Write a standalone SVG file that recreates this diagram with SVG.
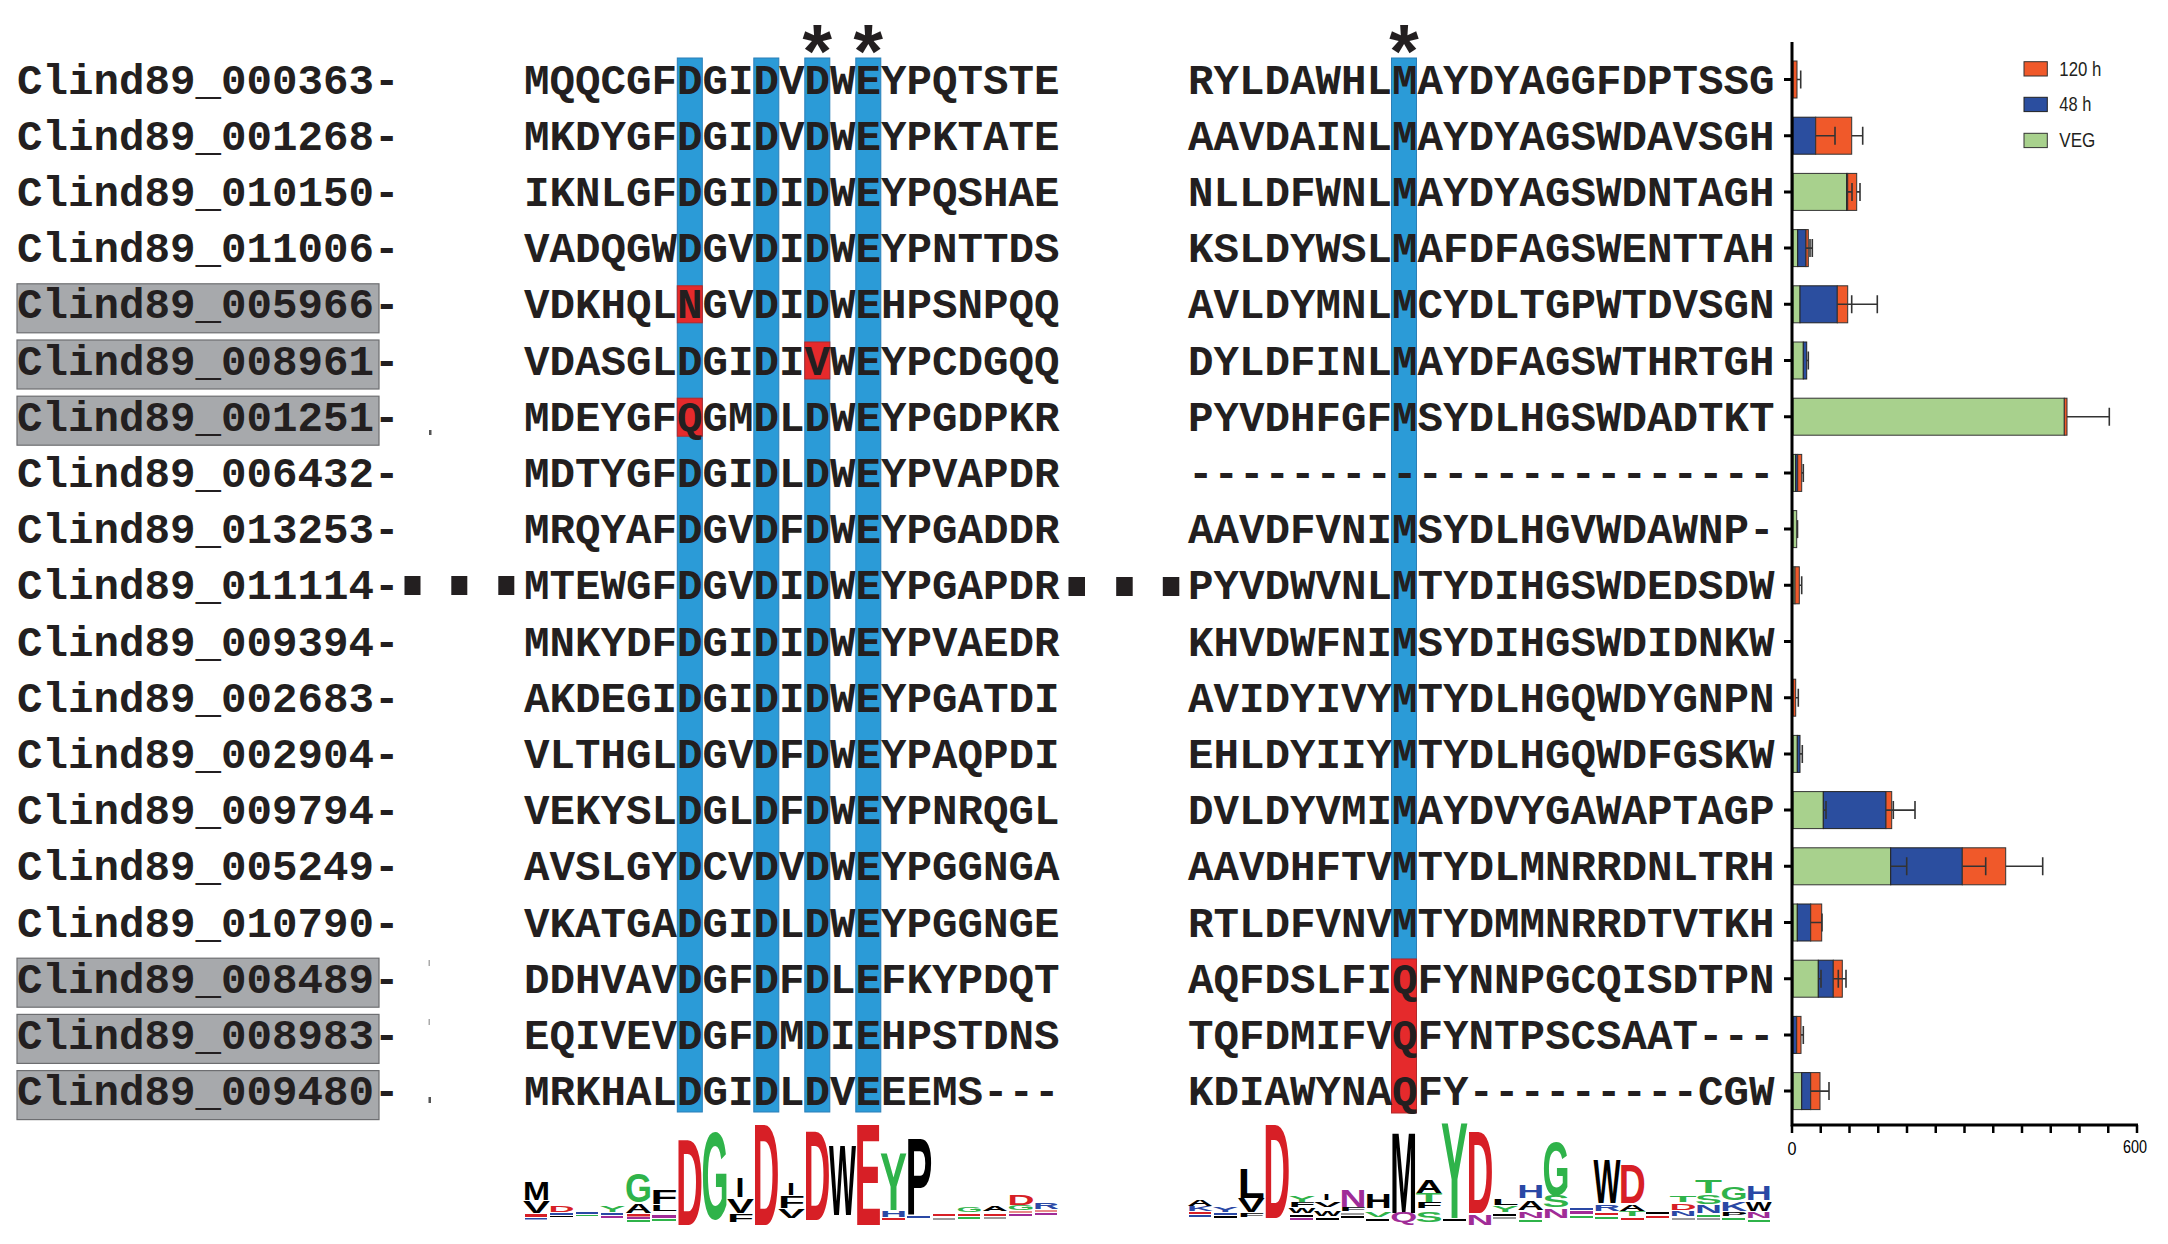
<svg xmlns="http://www.w3.org/2000/svg" width="2168" height="1244" viewBox="0 0 2168 1244">
<style>
.seq{font-family:"Courier New","Liberation Mono",monospace;font-weight:bold;font-size:42.5px;fill:#231f20}
.ast{font-family:"Courier New","Liberation Mono",monospace;font-weight:bold;font-size:76px;fill:#231f20}
.gbox{fill:#a7a9ac;stroke:#6d6e71;stroke-width:1.2}
.hb{fill:#2b9bd7;stroke:#2a7fb8;stroke-width:1}
.hr{fill:#e52a2c;stroke:#b5282a;stroke-width:1}
.sq{fill:#231f20}
.art{fill:#555}
.veg{fill:#a8d18d;stroke:#333;stroke-width:1}
.h48{fill:#2b4e9f;stroke:#222;stroke-width:1}
.h120{fill:#f0592a;stroke:#333;stroke-width:1}
.err{stroke:#333;stroke-width:1.6;fill:none}
.ax{stroke:#000;stroke-width:3;fill:none}
.tick{stroke:#000;stroke-width:2.5;fill:none}
.tk{font-family:"Liberation Sans",Arial,sans-serif;font-size:19px;fill:#000}
.lgd{font-family:"Liberation Sans",Arial,sans-serif;font-size:20px;fill:#231f20}
.lg{font-family:"Liberation Sans",Arial,sans-serif;font-weight:bold}
.r{fill:#d71f26}.g{fill:#2fb34a}.k{fill:#000}.bl{fill:#2a48a5}.p{fill:#a02c97}.pk{fill:#e98a8a}.gy{fill:#9a9a9a}
</style>

<!-- label highlight boxes -->
<g id="label-boxes">
<rect class="gbox" x="17" y="283.8" width="362" height="49"/>
<rect class="gbox" x="17" y="340" width="362" height="49"/>
<rect class="gbox" x="17" y="396.2" width="362" height="49"/>
<rect class="gbox" x="17" y="958.2" width="362" height="49"/>
<rect class="gbox" x="17" y="1014.4" width="362" height="49"/>
<rect class="gbox" x="17" y="1070.6" width="362" height="49"/>
</g>

<!-- conserved column highlights -->
<g id="highlights">
<rect class="hb" x="677.3" y="58" width="25" height="1054"/>
<rect class="hb" x="753.8" y="58" width="25" height="1054"/>
<rect class="hb" x="804.8" y="58" width="25" height="1054"/>
<rect class="hb" x="855.8" y="58" width="25" height="1054"/>
<rect class="hb" x="1391.5" y="58" width="25" height="901"/>
<rect class="hr" x="677.3" y="285.8" width="25" height="37"/>
<rect class="hr" x="804.8" y="342" width="25" height="37"/>
<rect class="hr" x="677.3" y="398.2" width="25" height="38"/>
<rect class="hr" x="1391.5" y="959" width="25" height="154"/>
</g>

<g id="asterisks">
<text class="ast" x="817.3" y="80" text-anchor="middle">*</text>
<text class="ast" x="868.3" y="80" text-anchor="middle">*</text>
<text class="ast" x="1404" y="80" text-anchor="middle">*</text>
</g>

<g id="alignment">
<g id="row-01"><text class="seq" x="17" y="93.5">Clind89_000363-</text><text class="seq" x="524" y="93.5">MQQCGFDGIDVDWEYPQTSTE</text><text class="seq" x="1188" y="93.5">RYLDAWHLMAYDYAGGFDPTSSG</text></g>
<g id="row-02"><text class="seq" x="17" y="149.7">Clind89_001268-</text><text class="seq" x="524" y="149.7">MKDYGFDGIDVDWEYPKTATE</text><text class="seq" x="1188" y="149.7">AAVDAINLMAYDYAGSWDAVSGH</text></g>
<g id="row-03"><text class="seq" x="17" y="205.9">Clind89_010150-</text><text class="seq" x="524" y="205.9">IKNLGFDGIDIDWEYPQSHAE</text><text class="seq" x="1188" y="205.9">NLLDFWNLMAYDYAGSWDNTAGH</text></g>
<g id="row-04"><text class="seq" x="17" y="262.1">Clind89_011006-</text><text class="seq" x="524" y="262.1">VADQGWDGVDIDWEYPNTTDS</text><text class="seq" x="1188" y="262.1">KSLDYWSLMAFDFAGSWENTTAH</text></g>
<g id="row-05"><text class="seq" x="17" y="318.3">Clind89_005966-</text><text class="seq" x="524" y="318.3">VDKHQLNGVDIDWEHPSNPQQ</text><text class="seq" x="1188" y="318.3">AVLDYMNLMCYDLTGPWTDVSGN</text></g>
<g id="row-06"><text class="seq" x="17" y="374.5">Clind89_008961-</text><text class="seq" x="524" y="374.5">VDASGLDGIDIVWEYPCDGQQ</text><text class="seq" x="1188" y="374.5">DYLDFINLMAYDFAGSWTHRTGH</text></g>
<g id="row-07"><text class="seq" x="17" y="430.7">Clind89_001251-</text><text class="seq" x="524" y="430.7">MDEYGFQGMDLDWEYPGDPKR</text><text class="seq" x="1188" y="430.7">PYVDHFGFMSYDLHGSWDADTKT</text></g>
<g id="row-08"><text class="seq" x="17" y="486.9">Clind89_006432-</text><text class="seq" x="524" y="486.9">MDTYGFDGIDLDWEYPVAPDR</text><text class="seq" x="1188" y="486.9">-----------------------</text></g>
<g id="row-09"><text class="seq" x="17" y="543.1">Clind89_013253-</text><text class="seq" x="524" y="543.1">MRQYAFDGVDFDWEYPGADDR</text><text class="seq" x="1188" y="543.1">AAVDFVNIMSYDLHGVWDAWNP-</text></g>
<g id="row-10"><text class="seq" x="17" y="599.3">Clind89_011114-</text><text class="seq" x="524" y="599.3">MTEWGFDGVDIDWEYPGAPDR</text><text class="seq" x="1188" y="599.3">PYVDWVNLMTYDIHGSWDEDSDW</text></g>
<g id="row-11"><text class="seq" x="17" y="655.5">Clind89_009394-</text><text class="seq" x="524" y="655.5">MNKYDFDGIDIDWEYPVAEDR</text><text class="seq" x="1188" y="655.5">KHVDWFNIMSYDIHGSWDIDNKW</text></g>
<g id="row-12"><text class="seq" x="17" y="711.7">Clind89_002683-</text><text class="seq" x="524" y="711.7">AKDEGIDGIDIDWEYPGATDI</text><text class="seq" x="1188" y="711.7">AVIDYIVYMTYDLHGQWDYGNPN</text></g>
<g id="row-13"><text class="seq" x="17" y="767.9">Clind89_002904-</text><text class="seq" x="524" y="767.9">VLTHGLDGVDFDWEYPAQPDI</text><text class="seq" x="1188" y="767.9">EHLDYIIYMTYDLHGQWDFGSKW</text></g>
<g id="row-14"><text class="seq" x="17" y="824.1">Clind89_009794-</text><text class="seq" x="524" y="824.1">VEKYSLDGLDFDWEYPNRQGL</text><text class="seq" x="1188" y="824.1">DVLDYVMIMAYDVYGAWAPTAGP</text></g>
<g id="row-15"><text class="seq" x="17" y="880.3">Clind89_005249-</text><text class="seq" x="524" y="880.3">AVSLGYDCVDVDWEYPGGNGA</text><text class="seq" x="1188" y="880.3">AAVDHFTVMTYDLMNRRDNLTRH</text></g>
<g id="row-16"><text class="seq" x="17" y="936.5">Clind89_010790-</text><text class="seq" x="524" y="936.5">VKATGADGIDLDWEYPGGNGE</text><text class="seq" x="1188" y="936.5">RTLDFVNVMTYDMMNRRDTVTKH</text></g>
<g id="row-17"><text class="seq" x="17" y="992.7">Clind89_008489-</text><text class="seq" x="524" y="992.7">DDHVAVDGFDFDLEFKYPDQT</text><text class="seq" x="1188" y="992.7">AQFDSLFIQFYNNPGCQISDTPN</text></g>
<g id="row-18"><text class="seq" x="17" y="1048.9">Clind89_008983-</text><text class="seq" x="524" y="1048.9">EQIVEVDGFDMDIEHPSTDNS</text><text class="seq" x="1188" y="1048.9">TQFDMIFVQFYNTPSCSAAT---</text></g>
<g id="row-19"><text class="seq" x="17" y="1105.1">Clind89_009480-</text><text class="seq" x="524" y="1105.1">MRKHALDGIDLDVEEEMS---</text><text class="seq" x="1188" y="1105.1">KDIAWYNAQFY---------CGW</text></g>
</g>

<g id="connectors">
<rect class="sq" x="404.5" y="576" width="16" height="19"/>
<rect class="sq" x="451.3" y="576" width="16" height="19"/>
<rect class="sq" x="498.3" y="576" width="16" height="19"/>
<rect class="sq" x="1068.5" y="577" width="16.5" height="19"/>
<rect class="sq" x="1116.2" y="577" width="16.5" height="19"/>
<rect class="sq" x="1162.8" y="577" width="16.5" height="19"/>
<rect class="art" x="429" y="430" width="2.5" height="5"/>
<rect class="art" x="428.5" y="960" width="1.5" height="6" opacity="0.5"/>
<rect class="art" x="428.5" y="1019" width="1.5" height="6" opacity="0.5"/>
<rect class="art" x="428.5" y="1097" width="2.5" height="6"/>
</g>

<!-- sequence logo 1 -->
<g id="logo-1" class="lg">
<rect class="r" x="525" y="1214" width="22" height="3"/><rect class="bl" x="525" y="1218" width="22" height="1.5"/>
<rect class="bl" x="550" y="1213" width="23" height="2"/><rect class="k" x="550" y="1216" width="23" height="1"/>
<rect class="bl" x="576" y="1212" width="22" height="2"/><rect class="g" x="576" y="1215" width="22" height="1"/>
<rect class="bl" x="601" y="1213" width="22" height="2"/><rect class="p" x="601" y="1216" width="22" height="2"/>
<rect class="r" x="627" y="1214" width="23" height="2.5"/><rect class="p" x="627" y="1217" width="23" height="2"/><rect class="g" x="627" y="1220" width="23" height="2"/>
<rect class="p" x="652" y="1215" width="24" height="3"/><rect class="g" x="652" y="1219" width="24" height="2"/>
<rect class="r" x="882" y="1218" width="23" height="2"/><rect class="bl" x="907" y="1216" width="23" height="2"/>
<rect class="r" x="933" y="1214" width="22" height="2"/><rect class="gy" x="933" y="1218" width="22" height="2"/>
<rect class="r" x="958" y="1214" width="22" height="2"/><rect class="g" x="958" y="1217" width="22" height="2"/>
<rect class="r" x="984" y="1214" width="22" height="2"/><rect class="gy" x="984" y="1217" width="22" height="2"/>
<rect class="pk" x="1009" y="1211" width="23" height="2"/><rect class="p" x="1009" y="1214" width="23" height="2"/>
<rect class="pk" x="1035" y="1210" width="22" height="2"/><rect class="p" x="1035" y="1213" width="22" height="2"/>
<text class="k" x="523" y="1200" font-size="25.6" textLength="27" lengthAdjust="spacingAndGlyphs">M</text>
<text class="k" x="523" y="1213" font-size="16.2" textLength="27" lengthAdjust="spacingAndGlyphs">V</text>
<text class="r" x="548.5" y="1212" font-size="8.4" textLength="26" lengthAdjust="spacingAndGlyphs">D</text>
<text class="g" x="599.5" y="1212" font-size="8.4" textLength="26" lengthAdjust="spacingAndGlyphs">Y</text>
<text class="g" x="625" y="1201.7" font-size="40.5" textLength="27" lengthAdjust="spacingAndGlyphs">G</text>
<text class="k" x="625" y="1213" font-size="12.6" textLength="27" lengthAdjust="spacingAndGlyphs">A</text>
<text class="k" x="650.5" y="1204" font-size="19.6" textLength="27" lengthAdjust="spacingAndGlyphs">F</text>
<text class="k" x="650.5" y="1211" font-size="9.8" textLength="27" lengthAdjust="spacingAndGlyphs">L</text>
<text class="r" x="676" y="1225" font-size="121.5" textLength="27" lengthAdjust="spacingAndGlyphs">D</text>
<text class="g" x="701.5" y="1219" font-size="124" textLength="27" lengthAdjust="spacingAndGlyphs">G</text>
<text class="k" x="735.5" y="1196.7" font-size="27.9" textLength="9" lengthAdjust="spacingAndGlyphs">I</text>
<text class="k" x="727" y="1213" font-size="21" textLength="27" lengthAdjust="spacingAndGlyphs">V</text>
<text class="k" x="727" y="1222" font-size="11.2" textLength="27" lengthAdjust="spacingAndGlyphs">F</text>
<text class="r" x="752.5" y="1225" font-size="145.3" textLength="27" lengthAdjust="spacingAndGlyphs">D</text>
<text class="k" x="787" y="1195" font-size="16.8" textLength="8" lengthAdjust="spacingAndGlyphs">I</text>
<text class="k" x="778" y="1208" font-size="16.8" textLength="27" lengthAdjust="spacingAndGlyphs">F</text>
<text class="k" x="778" y="1218" font-size="12.6" textLength="27" lengthAdjust="spacingAndGlyphs">V</text>
<text class="r" x="803.5" y="1220" font-size="127.1" textLength="27" lengthAdjust="spacingAndGlyphs">D</text>
<text class="k" x="829" y="1215" font-size="100.6" textLength="27" lengthAdjust="spacingAndGlyphs">W</text>
<text class="r" x="854.5" y="1225" font-size="145.3" textLength="27" lengthAdjust="spacingAndGlyphs">E</text>
<text class="g" x="880" y="1210" font-size="81" textLength="27" lengthAdjust="spacingAndGlyphs">Y</text>
<text class="bl" x="880" y="1217" font-size="9.8" textLength="27" lengthAdjust="spacingAndGlyphs">H</text>
<text class="k" x="905.5" y="1215" font-size="109" textLength="27" lengthAdjust="spacingAndGlyphs">P</text>
<text class="g" x="956.5" y="1212" font-size="8" textLength="26" lengthAdjust="spacingAndGlyphs">G</text>
<text class="k" x="982" y="1211" font-size="7" textLength="26" lengthAdjust="spacingAndGlyphs">A</text>
<text class="r" x="1007.5" y="1205" font-size="14" textLength="27" lengthAdjust="spacingAndGlyphs">D</text>
<text class="g" x="1007.5" y="1210" font-size="7" textLength="27" lengthAdjust="spacingAndGlyphs">G</text>
<text class="bl" x="1033" y="1209" font-size="8.4" textLength="26" lengthAdjust="spacingAndGlyphs">R</text>
</g>

<!-- sequence logo 2 -->
<g id="logo-2" class="lg">
<rect class="r" x="1189" y="1212" width="22" height="2"/><rect class="bl" x="1189" y="1215" width="22" height="2"/>
<rect class="bl" x="1214" y="1213" width="23" height="2"/><rect class="k" x="1214" y="1216" width="23" height="2"/>
<rect class="k" x="1290" y="1215" width="23" height="2"/><rect class="p" x="1290" y="1218" width="23" height="2"/>
<rect class="k" x="1316" y="1218" width="23" height="2"/>
<rect class="gy" x="1341" y="1213" width="23" height="2"/><rect class="k" x="1341" y="1216" width="23" height="2"/>
<rect class="k" x="1366" y="1219" width="23" height="2"/>
<rect class="k" x="1443" y="1219" width="23" height="2"/>
<rect class="k" x="1493" y="1214" width="23" height="2"/><rect class="gy" x="1493" y="1217" width="23" height="2"/>
<rect class="g" x="1519" y="1220" width="23" height="2"/>
<rect class="bl" x="1570" y="1208" width="23" height="2"/><rect class="p" x="1570" y="1211" width="23" height="3"/><rect class="g" x="1570" y="1216" width="23" height="2"/>
<rect class="r" x="1595" y="1213" width="23" height="2"/><rect class="g" x="1595" y="1217" width="23" height="2"/>
<rect class="r" x="1621" y="1218" width="23" height="2"/>
<rect class="k" x="1646" y="1212" width="23" height="2"/><rect class="r" x="1646" y="1216" width="23" height="2"/>
<rect class="gy" x="1672" y="1218" width="23" height="2"/>
<rect class="g" x="1697" y="1215" width="23" height="2"/><rect class="gy" x="1697" y="1218" width="23" height="2"/>
<rect class="g" x="1722" y="1218" width="23" height="2"/>
<rect class="g" x="1748" y="1220" width="22" height="2"/>
<text class="k" x="1187" y="1206" font-size="9.8" textLength="26" lengthAdjust="spacingAndGlyphs">A</text>
<text class="bl" x="1187" y="1211" font-size="7" textLength="26" lengthAdjust="spacingAndGlyphs">K</text>
<text class="bl" x="1212.4" y="1212" font-size="7" textLength="26" lengthAdjust="spacingAndGlyphs">Y</text>
<text class="k" x="1237.8" y="1198" font-size="43.3" textLength="27" lengthAdjust="spacingAndGlyphs">L</text>
<text class="k" x="1237.8" y="1212" font-size="19.6" textLength="27" lengthAdjust="spacingAndGlyphs">V</text>
<text class="k" x="1237.8" y="1217" font-size="5.6" textLength="27" lengthAdjust="spacingAndGlyphs">F</text>
<text class="r" x="1263.2" y="1218" font-size="135.5" textLength="27" lengthAdjust="spacingAndGlyphs">D</text>
<text class="g" x="1288.6" y="1202" font-size="9.8" textLength="27" lengthAdjust="spacingAndGlyphs">Y</text>
<text class="k" x="1288.6" y="1207" font-size="7" textLength="27" lengthAdjust="spacingAndGlyphs">F</text>
<text class="k" x="1288.6" y="1213" font-size="7" textLength="27" lengthAdjust="spacingAndGlyphs">W</text>
<text class="k" x="1323" y="1200" font-size="9.8" textLength="7" lengthAdjust="spacingAndGlyphs">I</text>
<text class="k" x="1314" y="1207" font-size="7" textLength="27" lengthAdjust="spacingAndGlyphs">V</text>
<text class="k" x="1314" y="1216" font-size="7" textLength="27" lengthAdjust="spacingAndGlyphs">W</text>
<text class="p" x="1339.4" y="1207" font-size="23.7" textLength="27" lengthAdjust="spacingAndGlyphs">N</text>
<text class="k" x="1339.4" y="1211" font-size="5.6" textLength="27" lengthAdjust="spacingAndGlyphs">F</text>
<text class="k" x="1364.8" y="1208" font-size="21" textLength="27" lengthAdjust="spacingAndGlyphs">H</text>
<text class="g" x="1364.8" y="1217" font-size="7" textLength="27" lengthAdjust="spacingAndGlyphs">V</text>
<text class="k" x="1390.2" y="1213" font-size="115.9" textLength="27" lengthAdjust="spacingAndGlyphs">M</text>
<text class="p" x="1390.2" y="1222" font-size="14" textLength="27" lengthAdjust="spacingAndGlyphs">Q</text>
<text class="k" x="1415.6" y="1193" font-size="18.2" textLength="27" lengthAdjust="spacingAndGlyphs">A</text>
<text class="g" x="1415.6" y="1202" font-size="12.6" textLength="27" lengthAdjust="spacingAndGlyphs">T</text>
<text class="k" x="1415.6" y="1208" font-size="8.4" textLength="27" lengthAdjust="spacingAndGlyphs">F</text>
<text class="g" x="1415.6" y="1222" font-size="15.4" textLength="27" lengthAdjust="spacingAndGlyphs">S</text>
<text class="g" x="1441" y="1218" font-size="136.9" textLength="27" lengthAdjust="spacingAndGlyphs">Y</text>
<text class="r" x="1466.4" y="1213" font-size="117.3" textLength="27" lengthAdjust="spacingAndGlyphs">D</text>
<text class="p" x="1466.4" y="1225" font-size="15.4" textLength="27" lengthAdjust="spacingAndGlyphs">N</text>
<text class="k" x="1491.8" y="1205" font-size="8.4" textLength="27" lengthAdjust="spacingAndGlyphs">L</text>
<text class="g" x="1491.8" y="1212" font-size="8.4" textLength="27" lengthAdjust="spacingAndGlyphs">Y</text>
<text class="bl" x="1517.2" y="1198" font-size="18.2" textLength="27" lengthAdjust="spacingAndGlyphs">H</text>
<text class="k" x="1517.2" y="1210" font-size="12.6" textLength="27" lengthAdjust="spacingAndGlyphs">A</text>
<text class="p" x="1517.2" y="1218" font-size="9.8" textLength="27" lengthAdjust="spacingAndGlyphs">N</text>
<text class="g" x="1542.6" y="1195" font-size="76.8" textLength="27" lengthAdjust="spacingAndGlyphs">G</text>
<text class="g" x="1542.6" y="1207" font-size="16.8" textLength="27" lengthAdjust="spacingAndGlyphs">S</text>
<text class="p" x="1542.6" y="1218" font-size="12.6" textLength="27" lengthAdjust="spacingAndGlyphs">N</text>
<text class="k" x="1593.4" y="1203" font-size="62.8" textLength="27" lengthAdjust="spacingAndGlyphs">W</text>
<text class="bl" x="1593.4" y="1211" font-size="9.8" textLength="27" lengthAdjust="spacingAndGlyphs">R</text>
<text class="r" x="1618.8" y="1203" font-size="55.9" textLength="27" lengthAdjust="spacingAndGlyphs">D</text>
<text class="k" x="1618.8" y="1211" font-size="9.8" textLength="27" lengthAdjust="spacingAndGlyphs">A</text>
<text class="g" x="1618.8" y="1216" font-size="7" textLength="27" lengthAdjust="spacingAndGlyphs">T</text>
<text class="g" x="1669.6" y="1202" font-size="8.4" textLength="27" lengthAdjust="spacingAndGlyphs">T</text>
<text class="r" x="1669.6" y="1210" font-size="9.8" textLength="27" lengthAdjust="spacingAndGlyphs">D</text>
<text class="bl" x="1669.6" y="1216" font-size="7" textLength="27" lengthAdjust="spacingAndGlyphs">N</text>
<text class="g" x="1695" y="1193" font-size="18.2" textLength="27" lengthAdjust="spacingAndGlyphs">T</text>
<text class="g" x="1695" y="1204" font-size="12.6" textLength="27" lengthAdjust="spacingAndGlyphs">S</text>
<text class="bl" x="1695" y="1213" font-size="11.2" textLength="27" lengthAdjust="spacingAndGlyphs">N</text>
<text class="g" x="1720.4" y="1200" font-size="18.2" textLength="27" lengthAdjust="spacingAndGlyphs">G</text>
<text class="bl" x="1720.4" y="1211" font-size="12.6" textLength="27" lengthAdjust="spacingAndGlyphs">K</text>
<text class="k" x="1720.4" y="1216" font-size="5.6" textLength="27" lengthAdjust="spacingAndGlyphs">P</text>
<text class="bl" x="1745.8" y="1200" font-size="19.6" textLength="26" lengthAdjust="spacingAndGlyphs">H</text>
<text class="k" x="1745.8" y="1211" font-size="12.6" textLength="26" lengthAdjust="spacingAndGlyphs">W</text>
<text class="p" x="1745.8" y="1218" font-size="8.4" textLength="26" lengthAdjust="spacingAndGlyphs">N</text>
</g>

<!-- bar chart -->
<g id="bars">
<rect class="h120" x="1793" y="61" width="4" height="37"/>
<rect class="h48" x="1793" y="117.2" width="22.7" height="37"/><rect class="h120" x="1815.7" y="117.2" width="36" height="37"/>
<rect class="veg" x="1793" y="173.4" width="53.7" height="37"/><rect class="h48" x="1846.7" y="173.4" width="1" height="37"/><rect class="h120" x="1847.7" y="173.4" width="9" height="37"/>
<rect class="veg" x="1793" y="229.6" width="4.7" height="37"/><rect class="h48" x="1797.7" y="229.6" width="8.3" height="37"/><rect class="h120" x="1806" y="229.6" width="2.3" height="37"/>
<rect class="veg" x="1793" y="285.8" width="7" height="37"/><rect class="h48" x="1800" y="285.8" width="37.3" height="37"/><rect class="h120" x="1837.3" y="285.8" width="10.4" height="37"/>
<rect class="veg" x="1793" y="342" width="10.3" height="37"/><rect class="h48" x="1803.3" y="342" width="3.4" height="37"/>
<rect class="veg" x="1793" y="398.2" width="271.3" height="37"/><rect class="h120" x="2064.3" y="398.2" width="2.7" height="37"/>
<rect class="veg" x="1793" y="454.4" width="2.7" height="37"/><rect class="h48" x="1795.7" y="454.4" width="2" height="37"/><rect class="h120" x="1797.7" y="454.4" width="4" height="37"/>
<rect class="veg" x="1793" y="510.6" width="3.7" height="37"/>
<rect class="veg" x="1793" y="566.8" width="2" height="37"/><rect class="h120" x="1795" y="566.8" width="4.3" height="37"/>
<rect class="h120" x="1793" y="679.2" width="2.7" height="37"/>
<rect class="veg" x="1793" y="735.4" width="4.3" height="37"/><rect class="h48" x="1797.3" y="735.4" width="2.7" height="37"/>
<rect class="veg" x="1793" y="791.6" width="30.3" height="37"/><rect class="h48" x="1823.3" y="791.6" width="62.7" height="37"/><rect class="h120" x="1886" y="791.6" width="5.7" height="37"/>
<rect class="veg" x="1793" y="847.8" width="97.7" height="37"/><rect class="h48" x="1890.7" y="847.8" width="71.6" height="37"/><rect class="h120" x="1962.3" y="847.8" width="43.4" height="37"/>
<rect class="veg" x="1793" y="904" width="4.3" height="37"/><rect class="h48" x="1797.3" y="904" width="13.4" height="37"/><rect class="h120" x="1810.7" y="904" width="11" height="37"/>
<rect class="veg" x="1793" y="960.2" width="25.3" height="37"/><rect class="h48" x="1818.3" y="960.2" width="15" height="37"/><rect class="h120" x="1833.3" y="960.2" width="9" height="37"/>
<rect class="h48" x="1793" y="1016.4" width="3.7" height="37"/><rect class="h120" x="1796.7" y="1016.4" width="4.3" height="37"/>
<rect class="veg" x="1793" y="1072.6" width="8.7" height="37"/><rect class="h48" x="1801.7" y="1072.6" width="9" height="37"/><rect class="h120" x="1810.7" y="1072.6" width="9.3" height="37"/>
</g>

<g id="error-bars" class="err">
<path d="M1797 79.5H1800.7M1800.7 70.5V88.5"/>
<path d="M1815.7 135.7H1835M1835 126.7V144.7M1851.7 135.7H1862.7M1862.7 126.7V144.7"/>
<path d="M1846.7 191.9H1852M1852 182.9V200.9M1856.7 191.9H1860M1860 182.9V200.9"/>
<path d="M1806 248.1H1812.3M1810 239.1V257.1M1812.3 239.1V257.1"/>
<path d="M1837.3 304.3H1877.3M1851.7 295.3V313.3M1877.3 295.3V313.3"/>
<path d="M1806.7 360.5H1808.3M1808.3 351.5V369.5"/>
<path d="M2067 416.7H2109.3M2109.3 407.7V425.7"/>
<path d="M1801.7 472.9H1803.3M1803.3 463.9V481.9"/>
<path d="M1797.5 520.1V538.1"/>
<path d="M1799.3 585.3H1801.7M1801.7 576.3V594.3"/>
<path d="M1795.7 697.7H1798.3M1798.3 688.7V706.7"/>
<path d="M1800 753.9H1802.3M1802.3 744.9V762.9"/>
<path d="M1823.3 810.1H1826M1826 801.1V819.1M1886 810.1H1915M1893.3 801.1V819.1M1915 801.1V819.1"/>
<path d="M1890.7 866.3H1906.7M1906.7 857.3V875.3M1962.3 866.3H1985.7M1985.7 857.3V875.3M2005.7 866.3H2042.7M2042.7 857.3V875.3"/>
<path d="M1810.7 922.5H1822M1822 913.5V931.5"/>
<path d="M1818.3 978.7H1821M1821 969.7V987.7M1833.3 978.7H1846M1838.3 969.7V987.7M1846 969.7V987.7"/>
<path d="M1801 1034.9H1803.3M1803.3 1025.9V1043.9"/>
<path d="M1810.7 1091.1H1829M1829 1082.1V1100.1"/>
</g>

<g id="axes">
<path class="ax" d="M1792 42V1126.5M1790.5 1125H2138"/>
<path class="ax" d="M1784 79.5H1792M1784 135.7H1792M1784 191.9H1792M1784 248.1H1792M1784 304.3H1792M1784 360.5H1792M1784 416.7H1792M1784 472.9H1792M1784 529.1H1792M1784 585.3H1792M1784 641.5H1792M1784 697.7H1792M1784 753.9H1792M1784 810.1H1792M1784 866.3H1792M1784 922.5H1792M1784 978.7H1792M1784 1034.9H1792M1784 1091.1H1792"/>
<path class="tick" d="M1792 1125V1133M1820.75 1125V1133M1849.5 1125V1133M1878.25 1125V1133M1907 1125V1133M1935.75 1125V1133M1964.5 1125V1133M1993.25 1125V1133M2022 1125V1133M2050.75 1125V1133M2079.5 1125V1133M2108.25 1125V1133M2137 1125V1133"/>
<text class="tk" x="1792" y="1155" text-anchor="middle" textLength="9" lengthAdjust="spacingAndGlyphs">0</text>
<text class="tk" x="2135" y="1153" text-anchor="middle" textLength="24" lengthAdjust="spacingAndGlyphs">600</text>
</g>

<g id="legend">
<rect class="h120" x="2024" y="61.7" width="23.3" height="14.3"/>
<rect class="h48" x="2024" y="97.3" width="23.3" height="14.3"/>
<rect class="veg" x="2024" y="133.3" width="23.3" height="14.3"/>
<text class="lgd" x="2059.3" y="75.5" textLength="42" lengthAdjust="spacingAndGlyphs">120 h</text>
<text class="lgd" x="2059.3" y="111.3" textLength="32" lengthAdjust="spacingAndGlyphs">48 h</text>
<text class="lgd" x="2059.3" y="147" textLength="36" lengthAdjust="spacingAndGlyphs">VEG</text>
</g>
</svg>
